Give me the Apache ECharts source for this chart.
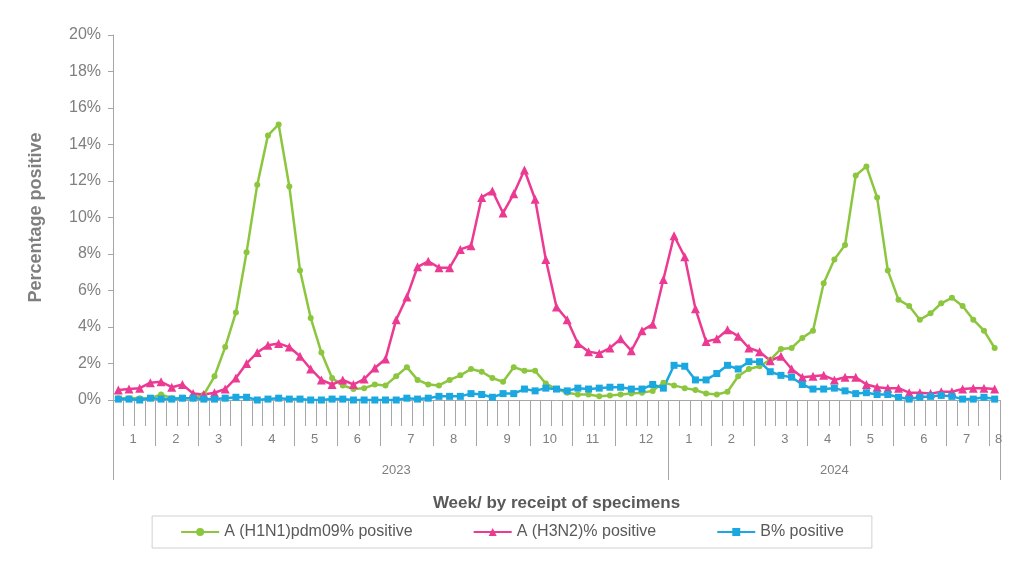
<!DOCTYPE html>
<html><head><meta charset="utf-8">
<script src="https://cdn.jsdelivr.net/npm/echarts@6/dist/echarts.min.js"></script>
<style>html,body{margin:0;padding:0;background:#fff}#c{width:1024px;height:564px}</style>
</head><body><div id="c"></div>
<script>
const monthWeeks2023 = [4,4,4,5,4,4,5,4,5,4,4,5];
const monthWeeks2024 = [4,4,5,4,4,5,4,1];
const years = ['2023','2024'];
const yTicks = [0,2,4,6,8,10,12,14,16,18,20];
const h1n1 = [0.1,0.1,0.1,0.1,0.3,0.1,0.1,0.1,0.3,
 1.3,2.9,4.8,8.1,11.8,14.5,15.1,11.7,7.1,4.5,2.6,1.2,0.8,0.6,0.65,0.85,0.8,1.3,1.8,1.1,0.85,0.8,1.1,1.35,1.7,1.55,1.2,1.0,1.8,1.6,1.6,0.9,
 0.6,0.4,0.3,0.3,0.2,0.25,0.3,0.35,0.4,0.5,
 0.95,0.8,0.65,0.55,0.35,0.3,0.45,1.3,1.7,1.85,
 2.2,2.8,2.85,3.4,3.8,6.4,7.7,8.5,12.3,12.8,
 11.1,7.1,5.5,5.15,4.4,4.75,5.3,5.6,5.15,4.4,3.8,2.85];
const h3n2 = [0.55,0.6,0.65,0.95,1.0,0.7,0.85,0.35,0.3,0.4,0.6,1.2,2.0,2.6,3.0,3.1,2.9,2.4,1.7,1.1,0.85,1.1,0.85,1.15,1.75,2.25,4.4,5.65,7.3,7.6,7.25,7.25,8.25,8.45,11.1,11.45,10.25,11.3,12.6,11.0,7.7,5.1,
 4.4,3.1,2.65,2.55,2.85,3.35,2.7,3.8,4.15,
 6.6,9.0,7.85,5.0,3.2,3.35,3.85,3.5,2.85,2.65,
 2.15,2.4,1.7,1.25,1.3,1.35,1.1,1.25,1.25,0.85,
 0.7,0.65,0.65,0.4,0.4,0.35,0.45,0.45,0.6,0.65,0.65,0.6];
const bPos = [0.05,0.05,0.0,0.1,0.05,0.05,0.1,0.1,0.05,0.05,0.1,0.15,0.15,0.0,0.05,0.1,0.05,0.05,0.0,0.0,0.05,0.05,0.0,0.0,0.0,0.0,0.0,0.1,0.05,0.1,0.2,0.2,0.2,0.35,0.3,0.15,0.35,0.35,0.6,0.5,0.65,0.6,
 0.5,0.65,0.6,0.65,0.7,0.7,0.6,0.6,0.85,
 0.65,1.9,1.85,1.1,1.1,1.45,1.9,1.7,2.1,2.1,
 1.55,1.35,1.25,0.85,0.6,0.6,0.65,0.5,0.35,0.4,
 0.3,0.3,0.15,0.05,0.15,0.2,0.25,0.2,0.05,0.05,0.15,0.05];

const N = h1n1.length;
const weeks = []; const monthLbl = []; const yearLbl = [];
const monthStarts = new Set(); const yearStarts = new Set();
[monthWeeks2023, monthWeeks2024].forEach((arr, yi) => {
  const yStart = weeks.length; yearStarts.add(yStart);
  arr.forEach((w, mi) => {
    monthStarts.add(weeks.length);
    for (let k = 0; k < w; k++) {
      weeks.push(weeks.length);
      monthLbl.push(k === Math.floor((w-1)/2) ? String(mi+1) : '');
    }
  });
  const yLen = weeks.length - yStart;
  for (let k = 0; k < yLen; k++) yearLbl.push(k === Math.floor(yLen/2) ? years[yi] : '');
});
monthStarts.add(N); yearStarts.add(N);
const grey = '#a6a6a6', txt = '#7f7f7f';
const baseX = {type:'category', gridIndex:0, boundaryGap:true, position:'bottom',
  axisLine:{show:true,lineStyle:{color:grey}}, splitLine:{show:false}};
const chart = echarts.init(document.getElementById('c'));
chart.setOption({
  animation:false,
  grid:{left:113, right:24, top:35, bottom:164},
  legend:{bottom:16, left:'center', itemGap:60, itemWidth:38, itemHeight:10,
    padding:[8,28,8,28], borderColor:'#d0d0d0', borderWidth:1,
    textStyle:{color:'#595959', fontSize:16, fontFamily:'Arial, Liberation Sans'}},
  xAxis:[
    Object.assign({}, baseX, {data:weeks, axisTick:{show:true,interval:0,length:26,lineStyle:{color:grey}}, axisLabel:{show:false},
      name:'Week/ by receipt of specimens', nameLocation:'middle', nameGap:95,
      nameTextStyle:{color:'#595959',fontSize:17,fontWeight:'bold',fontFamily:'Arial, Liberation Sans'}}),
    Object.assign({}, baseX, {data:monthLbl, axisLine:{show:false},
      axisTick:{show:true, length:46, interval:(i)=>monthStarts.has(i), lineStyle:{color:grey}},
      axisLabel:{interval:0, margin:33, color:txt, fontSize:13, padding:[0,0,0,8], fontFamily:'Arial, Liberation Sans'}}),
    Object.assign({}, baseX, {data:yearLbl, axisLine:{show:false},
      axisTick:{show:true, length:80, interval:(i)=>yearStarts.has(i), lineStyle:{color:grey}},
      axisLabel:{interval:0, margin:64, color:txt, fontSize:13, fontFamily:'Arial, Liberation Sans'}})
  ],
  yAxis:{type:'value', min:yTicks[0], max:yTicks[yTicks.length-1], interval:2,
    axisLine:{show:true,lineStyle:{color:grey}}, axisTick:{show:true,lineStyle:{color:grey}},
    splitLine:{show:false},
    axisLabel:{formatter:'{value}%', color:txt, fontSize:16, margin:12, fontFamily:'Arial, Liberation Sans'},
    name:'Percentage positive', nameLocation:'middle', nameGap:68,
    nameTextStyle:{color:txt,fontSize:18,fontWeight:'bold',fontFamily:'Arial, Liberation Sans'}},
  series:[
    {name:'A (H1N1)pdm09% positive', type:'line', data:h1n1, symbol:'circle', symbolSize:6, showAllSymbol:true,
     color:'#8cc63f', lineStyle:{width:2.5}},
    {name:'A (H3N2)% positive', type:'line', data:h3n2, symbol:'triangle', symbolSize:9, showAllSymbol:true,
     color:'#ec3a93', lineStyle:{width:2.5}},
    {name:'B% positive', type:'line', data:bPos, symbol:'rect', symbolSize:7, showAllSymbol:true,
     color:'#1ba8e0', lineStyle:{width:2.5}}
  ]
});
</script></body></html>
